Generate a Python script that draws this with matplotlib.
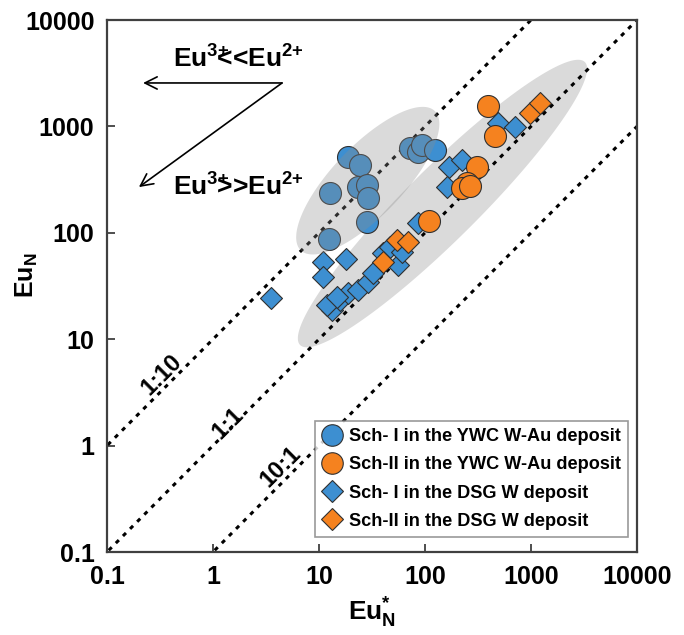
import numpy as np
import matplotlib
matplotlib.use('Agg')
import matplotlib.pyplot as plt
from matplotlib.lines import Line2D


#################### Data

### Sch-I in the YWC W-Au deposit (circles, blue)
ywc1_eun_star = [18.8, 24.4, 12.7, 23.3, 28.4, 29.0, 28.4, 12.4, 72, 86, 94, 124]
ywc1_eun      = [515, 434, 237, 269, 281, 212, 126, 87.5, 627, 574, 668, 600]

### Sch-II in the YWC W-Au deposit (circles, orange)
ywc2_eun_star = [393, 457, 310, 249, 223, 109, 266]
ywc2_eun      = [1556, 813, 415, 294, 264, 129, 275]

### Sch-I in the DSG W deposit (diamonds, blue)
dsg1_eun_star = [3.5, 10.9, 18.0, 10.9, 13.3, 15.8, 18.8, 23.3, 29.0, 32.3, 40.2,
                 46.8, 55.6, 60.7, 86, 168, 161, 223, 489, 706, 11.9, 14.8]
dsg1_eun      = [24.4, 53, 56.8, 38.5, 18.8, 23.3, 27.2, 29.0, 34.5, 41.9, 64.6,
                 73.6, 49.8, 66, 124, 415, 269, 483, 1076, 986, 21, 25]

### Sch-II in the DSG W deposit (diamonds, orange)
dsg2_eun_star = [54.4, 69.2, 40.2, 979, 1216]
dsg2_eun      = [85.5, 82, 53, 1336, 1660]

### reference lines EuN = ratio * EuN*
ratio_values = [10, 1, 0.1]
ratio_labels = ['1:10', '1:1', '10:1']

tick_values = [0.1, 1, 10, 100, 1000, 10000]
tick_labels = ['0.1', '1', '10', '100', '1000', '10000']

legend_labels = ['Sch- I in the YWC W-Au deposit',
                 'Sch-II in the YWC W-Au deposit',
                 'Sch- I in the DSG W deposit',
                 'Sch-II in the DSG W deposit']


#################### Plot parameters

plt.rcParams['font.family'] = ['Liberation Sans', 'DejaVu Sans']
plt.rcParams['font.weight'] = 'bold'
plt.rcParams['axes.labelweight'] = 'bold'
plt.rcParams['mathtext.fontset'] = 'custom'
plt.rcParams['mathtext.rm'] = 'Liberation Sans:bold'
plt.rcParams['mathtext.it'] = 'Liberation Sans:bold'
plt.rcParams['mathtext.bf'] = 'Liberation Sans:bold'

color_blue = '#3d8fd1'
color_orange = '#f5821f'
color_shade = '#8c8c8c'
color_spine = '#404040'


def log_ellipse(ax, cx, cy, length, width, angle, **kw):
    # ellipse defined in log10 space, drawn on the log axes
    t = np.linspace(0, 2 * np.pi, 240)
    a = np.deg2rad(angle)
    u = length / 2 * np.cos(t)
    v = width / 2 * np.sin(t)
    lx = cx + u * np.cos(a) - v * np.sin(a)
    ly = cy + u * np.sin(a) + v * np.cos(a)
    ax.fill(10 ** lx, 10 ** ly, lw=0, **kw)


#################### Make plot

fig = plt.figure(figsize=(6.84, 6.35), dpi=100)
ax = fig.add_axes((107 / 684, 1 - 552 / 635, 530 / 684, 532 / 635))
ax.set_xscale('log')
ax.set_yscale('log')
ax.set_xlim(0.1, 10000)
ax.set_ylim(0.1, 10000)

### shaded fields (upper one lies over the circles, as in the original)
log_ellipse(ax, 2.165, 2.275, 3.78, 0.68, 44.7, color=color_shade, alpha=0.32, zorder=1)
log_ellipse(ax, 1.46, 2.49, 1.82, 0.66, 46.0, color=color_shade, alpha=0.32, zorder=5)

### ratio lines
xl = np.array([0.01, 1e5])
for r in ratio_values:
    ax.plot(xl, xl * r, color='black', lw=2.2, dashes=(1.4, 1.9), zorder=2)

ax.text(0.33, 4.6, '1:10', rotation=45, ha='center', va='center', fontsize=17, zorder=3)
ax.text(1.39, 1.63, '1:1', rotation=45, ha='center', va='center', fontsize=17, zorder=3)
ax.text(4.38, 0.63, '10:1', rotation=45, ha='center', va='center', fontsize=17, zorder=3)

### data
mk = dict(edgecolors='#303030', linewidths=0.8, zorder=4)
ax.scatter(dsg1_eun_star, dsg1_eun, s=125, marker='D', color=color_blue, **mk)
ax.scatter(dsg2_eun_star, dsg2_eun, s=125, marker='D', color=color_orange, **mk)
ax.scatter(ywc1_eun_star, ywc1_eun, s=250, marker='o', color=color_blue, **mk)
ax.scatter(ywc2_eun_star, ywc2_eun, s=250, marker='o', color=color_orange, **mk)

### arrows and Eu3+/Eu2+ text
arrow = dict(arrowstyle='->', color='black', lw=1.2, mutation_scale=22, shrinkA=0, shrinkB=0)
ax.annotate('', xy=(0.219, 2560), xytext=(4.48, 2560), arrowprops=arrow)
ax.annotate('', xy=(0.200, 269), xytext=(4.48, 2560), arrowprops=arrow)
ax.text(0.42, 3540, r'Eu$^{3{+}}\!\!\!$<<Eu$^{2{+}}$', fontsize=19, va='baseline')
ax.text(0.42, 226, r'Eu$^{3{+}}\!\!\!$>>Eu$^{2{+}}$', fontsize=19, va='baseline')

### axes
ax.minorticks_off()
ax.set_xticks(tick_values)
ax.set_xticklabels(tick_labels)
ax.set_yticks(tick_values)
ax.set_yticklabels(tick_labels)
ax.tick_params(which='major', direction='in', length=6, width=1.3,
               color=color_spine, labelsize=18, pad=9)
for s in ax.spines.values():
    s.set_color(color_spine)
    s.set_linewidth(1.6)

ax.set_xlabel(r'Eu$_{N}^{*}$', fontsize=19)
ax.set_ylabel(r'Eu$_{N}$', fontsize=18)
ax.xaxis.set_label_coords(0.5, -0.082)
ax.yaxis.set_label_coords(-0.127, 0.52)

### legend
handles = [
    Line2D([], [], ls='', marker='o', ms=15.5, mfc=color_blue, mec='#303030', mew=0.8),
    Line2D([], [], ls='', marker='o', ms=15.5, mfc=color_orange, mec='#303030', mew=0.8),
    Line2D([], [], ls='', marker='D', ms=11, mfc=color_blue, mec='#303030', mew=0.8),
    Line2D([], [], ls='', marker='D', ms=11, mfc=color_orange, mec='#303030', mew=0.8),
]
leg = ax.legend(handles, legend_labels, loc='lower right', bbox_to_anchor=(0.983, 0.028),
                fontsize=13.1, frameon=True, fancybox=False, borderaxespad=0,
                handlelength=1.1, handletextpad=0.35, labelspacing=0.62,
                borderpad=0.4)
leg.get_frame().set_edgecolor('#808080')
leg.get_frame().set_linewidth(1.2)
leg.set_zorder(6)

plt.savefig('out.png', dpi=100)
